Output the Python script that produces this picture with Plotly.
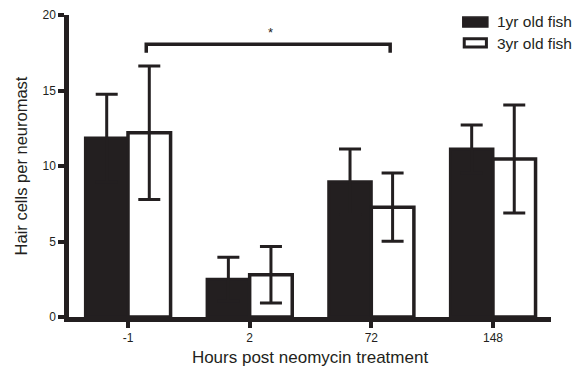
import plotly.graph_objects as go

categories = ["-1", "2", "72", "148"]
one_yr = [11.85, 2.5, 8.95, 11.12]
one_yr_err = [2.9, 1.46, 2.17, 1.6]
three_yr = [12.2, 2.8, 7.27, 10.46]
three_yr_err = [4.42, 1.87, 2.26, 3.58]
y_ticks = [0, 5, 10, 15, 20]
series_names = ["1yr old fish", "3yr old fish"]

INK = "#231f20"
FONT = "Liberation Sans, Arial, sans-serif"

fig = go.Figure()
fig.add_trace(go.Bar(
    x=categories, y=one_yr, name=series_names[0],
    marker=dict(color=INK, line=dict(color=INK, width=3)),
    error_y=dict(type="data", array=one_yr_err, visible=True, color=INK, thickness=3, width=11),
))
fig.add_trace(go.Bar(
    x=categories, y=three_yr, name=series_names[1],
    marker=dict(color="white", line=dict(color=INK, width=3.5)),
    error_y=dict(type="data", array=three_yr_err, visible=True, color=INK, thickness=3, width=11),
))

# significance bracket between -1 and 72 (3yr bars)
fig.add_shape(type="path", xref="x", yref="y",
              path="M 0.15 17.5 L 0.15 18.06 L 2.155 18.06 L 2.155 17.5",
              line=dict(color=INK, width=3.5))
fig.add_annotation(x=1.175, y=18.85, xref="x", yref="y", text="*", showarrow=False,
                   font=dict(size=13, color=INK, family=FONT))

# custom legend (swatches + labels)
fig.add_shape(type="rect", xref="paper", yref="paper", x0=0.817, x1=0.869, y0=0.960, y1=0.993,
              fillcolor=INK, line=dict(color=INK, width=1.5))
fig.add_shape(type="rect", xref="paper", yref="paper", x0=0.820, x1=0.866, y0=0.894, y1=0.921,
              fillcolor="white", line=dict(color=INK, width=3))
fig.add_annotation(x=0.884, y=0.977, xref="paper", yref="paper", text=series_names[0],
                   showarrow=False, xanchor="left", yanchor="middle",
                   font=dict(size=15.5, color=INK, family=FONT))
fig.add_annotation(x=0.884, y=0.907, xref="paper", yref="paper", text=series_names[1],
                   showarrow=False, xanchor="left", yanchor="middle",
                   font=dict(size=15.5, color=INK, family=FONT))

# page body has an 8px default margin, so the figure is sized to sit inside the window
fig.update_layout(
    width=576, height=366,
    margin=dict(l=61, r=33, t=7, b=57, autoexpand=False),
    paper_bgcolor="white", plot_bgcolor="white",
    barmode="group", bargap=0.3, bargroupgap=0,
    font=dict(family=FONT, color=INK),
    showlegend=False,
)
fig.update_xaxes(
    type="category", range=[-0.485, 3.477],
    showline=True, linecolor=INK, linewidth=4.5,
    ticks="outside", ticklen=6, tickwidth=3.5, tickcolor=INK,
    tickfont=dict(size=12, color=INK), showgrid=False, zeroline=False, automargin=False,
    title=dict(text="Hours post neomycin treatment", font=dict(size=17, color=INK), standoff=8),
)
fig.update_yaxes(
    range=[0, 20], tickvals=y_ticks,
    showline=True, linecolor=INK, linewidth=4.5,
    ticks="outside", ticklen=6, tickwidth=3.5, tickcolor=INK,
    tickfont=dict(size=12, color=INK), showgrid=False, zeroline=False, automargin=False,
    title=dict(text="Hair cells per neuromast", font=dict(size=16.5, color=INK), standoff=12),
)

fig.write_html("out.html")
